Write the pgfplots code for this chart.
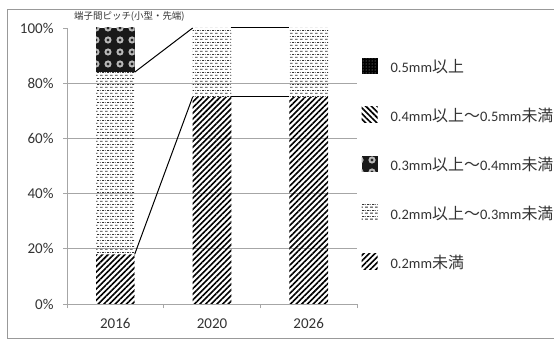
\documentclass[border=0pt]{standalone}
\usepackage{pgfplots}
\pgfplotsset{compat=1.18}
\usepackage{fontspec}
\setmainfont{Carlito}
\newfontfamily\cjk[Scale=1.1]{Noto Sans CJK JP}
\usetikzlibrary{patterns,patterns.meta}
\pgfdeclarepatternformonly{hdash}{\pgfqpoint{0bp}{0bp}}{\pgfqpoint{5bp}{6bp}}{\pgfqpoint{5bp}{6bp}}{%
  \pgfsetlinewidth{0.9bp}%
  \pgfpathmoveto{\pgfqpoint{0bp}{1bp}}\pgfpathlineto{\pgfqpoint{3.2bp}{1bp}}%
  \pgfpathmoveto{\pgfqpoint{2.5bp}{4bp}}\pgfpathlineto{\pgfqpoint{5bp}{4bp}}%
  \pgfpathmoveto{\pgfqpoint{0bp}{4bp}}\pgfpathlineto{\pgfqpoint{0.7bp}{4bp}}%
  \pgfusepath{stroke}}
\definecolor{txt}{HTML}{333333}
\definecolor{gridc}{HTML}{A6A6A6}
\begin{document}
\begin{tikzpicture}
\useasboundingbox (0,0) rectangle (554bp,340bp);
\clip (0,0) rectangle (554bp,340bp);
\fill[white] (0,0) rectangle (554bp,340bp);
\draw[gray!80, line width=0.8bp] (7bp,2bp) rectangle (600bp,331bp);
\node[anchor=west, font=\cjk\fontsize{8.6bp}{10bp}\selectfont, text=txt, inner sep=0pt] at (74bp,324bp) {端子間ピッチ(小型・先端)};
\begin{axis}[
  at={(67bp,36bp)}, anchor=south west,
  scale only axis, width=290bp, height=276bp,
  ybar stacked, bar width=0.4,
  xmin=-0.5, xmax=2.5, ymin=0, ymax=100,
  axis x line*=bottom, axis y line*=left,
  axis line style={gridc, line width=0.8bp},
  xtick={0,1,2}, xticklabels={2016,2020,2026},
  major x tick style={draw=none},
  minor xtick={-0.5,0.5,1.5,2.5},
  minor tick length=4bp, tick align=outside,
  minor x tick style={gridc, line width=0.8bp},
  ytick={0,20,40,60,80}, extra y ticks={100},
  extra y tick style={grid=none},
  yticklabel={\pgfmathprintnumber{\tick}\%},
  /pgf/number format/assume math mode=true,
  ymajorgrids, grid style={gridc, line width=0.8bp},
  major y tick style={gridc, line width=0.8bp}, major tick length=4bp,
  ticklabel style={font=\fontsize{15bp}{17bp}\selectfont, text=txt},
  xticklabel style={yshift=-7bp},
  yticklabel style={xshift=-6bp},
  legend image code/.code={\path[#1, draw=none] (0bp,-7bp) rectangle (16bp,9bp); \path (27bp,0bp);},
  reverse legend,
  legend style={at={(1.005,0.9)}, anchor=north west, draw=none, fill=none,
    font=\fontsize{14.5bp}{16bp}\selectfont, text=txt, row sep=30bp,
    cells={anchor=west}},
]
\addplot[draw=none, pattern={Lines[angle=45, distance=4bp, line width=1.6bp]}, pattern color=black]
  coordinates {(0,18) (1,75) (2,75)};
\addlegendentry{0.2mm{\cjk 未満}}
\addplot[draw=none, pattern=hdash, pattern color=black!80]
  coordinates {(0,66) (1,25) (2,25)};
\addlegendentry{0.2mm{\cjk 以上～}0.3mm{\cjk 未満}}
\addplot[draw=none, fill=black!90, postaction={pattern={Dots[radius=3.6bp, distance=12bp]}, pattern color=gray!55}, postaction={pattern={Dots[radius=1.6bp, distance=12bp]}, pattern color=black!85}]
  coordinates {(0,16) (1,0) (2,0)};
\addlegendentry{0.3mm{\cjk 以上～}0.4mm{\cjk 未満}}
\addplot[draw=none, pattern={Lines[angle=-45, distance=4bp, line width=1.6bp]}, pattern color=black]
  coordinates {(0,0) (1,0) (2,0)};
\addlegendentry{0.4mm{\cjk 以上～}0.5mm{\cjk 未満}}
\addplot[draw=none, fill=black, postaction={pattern={Dots[radius=0.5bp, distance=3bp]}, pattern color=gray!60}]
  coordinates {(0,0) (1,0) (2,0)};
\addlegendentry{0.5mm{\cjk 以上}}
\end{axis}
\begin{axis}[
  at={(67bp,36bp)}, anchor=south west,
  scale only axis, width=290bp, height=276bp,
  xmin=-0.5, xmax=2.5, ymin=0, ymax=100, hide axis,
]
\addplot[black, line width=1bp, mark=none] coordinates {(0.2,18) (0.8,75)};
\addplot[black, line width=1bp, mark=none] coordinates {(1.2,75) (1.8,75)};
\addplot[black, line width=1bp, mark=none] coordinates {(0.2,84) (0.8,100)};
\addplot[black, line width=1bp, mark=none] coordinates {(1.2,100) (1.8,100)};
\end{axis}
\end{tikzpicture}
\end{document}
